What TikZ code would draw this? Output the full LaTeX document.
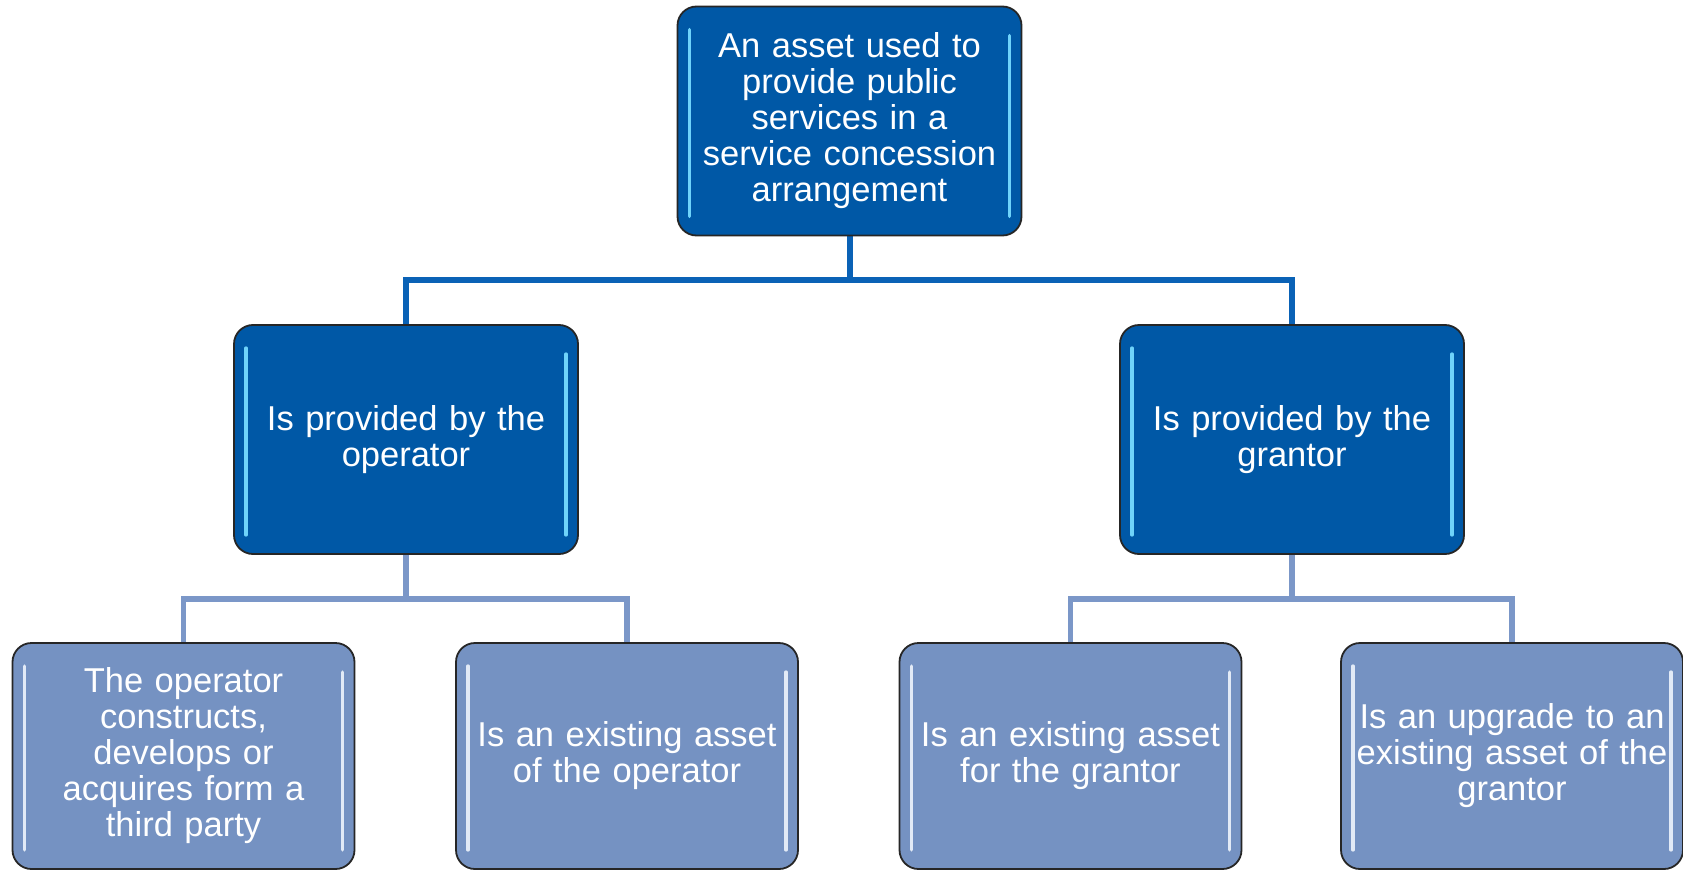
\documentclass[tikz,border=0pt]{standalone}
\usepackage{fontspec}
\setmainfont{Liberation Sans}
\usetikzlibrary{backgrounds}
\definecolor{darkfill}{HTML}{0058A6}
\definecolor{lightfill}{HTML}{7592C2}
\definecolor{darkline}{HTML}{0A62B6}
\definecolor{lightline}{HTML}{7B97C8}
\definecolor{darkglow}{HTML}{6FD3FA}
\definecolor{lightglow}{HTML}{E2EAF6}
\begin{document}
\begin{tikzpicture}[x=1pt,y=-1pt,
  box/.style={draw=black!85,line width=1.8pt,rounded corners=19pt,align=center,
    text=white,font=\fontsize{34.5}{36}\selectfont,inner sep=0pt},
  darkbox/.style={box,fill=darkfill,minimum width=344pt,minimum height=229pt,text width=300pt},
  lightbox/.style={box,fill=lightfill,minimum width=342pt,minimum height=226pt,text width=318pt},
  darkconn/.style={draw=darkline,line width=6pt},
  lightconn/.style={draw=lightline,line width=5.5pt},
  glow/.style={line width=3.5pt,line cap=round}
]
\useasboundingbox (0,0) rectangle (1683,872);

\node[darkbox] (top) at (849.5,121) {An asset used to\\provide public\\services in a\\service concession\\arrangement};
\node[darkbox] (ml) at (406,439.5) {Is provided by the\\operator};
\node[darkbox] (mr) at (1292,439.5) {Is provided by the\\grantor};
\node[lightbox] (b1) at (183.5,756) {The operator\\constructs,\\develops or\\acquires form a\\third party};
\node[lightbox] (b2) at (627,756) {Is an existing asset\\of the operator};
\node[lightbox] (b3) at (1070.5,756) {Is an existing asset\\for the grantor};
\node[lightbox] (b4) at (1512,756) {Is an upgrade to an\\existing asset of the\\grantor};

% glossy highlights
\foreach \n in {top,ml,mr}{
  \draw[glow,darkglow] ([shift={(13,24)}]\n.north west) -- ([shift={(13,-20)}]\n.south west);
  \draw[glow,darkglow] ([shift={(-13,30)}]\n.north east) -- ([shift={(-13,-20)}]\n.south east);
}
\foreach \n in {b1,b2,b3,b4}{
  \draw[glow,lightglow] ([shift={(13,24)}]\n.north west) -- ([shift={(13,-20)}]\n.south west);
  \draw[glow,lightglow] ([shift={(-13,30)}]\n.north east) -- ([shift={(-13,-20)}]\n.south east);
}

\coordinate (j1) at (849.5,280);
\coordinate (j2) at (406,599);
\coordinate (j3) at (1292,599);

\begin{scope}[on background layer]
\draw[darkconn] (top.south) -- (j1);
\draw[darkconn] (j1) -| (ml.north);
\draw[darkconn] (j1) -| (mr.north);

\draw[lightconn] (ml.south) -- (j2);
\draw[lightconn] (j2) -| (b1.north);
\draw[lightconn] (j2) -| (b2.north);

\draw[lightconn] (mr.south) -- (j3);
\draw[lightconn] (j3) -| (b3.north);
\draw[lightconn] (j3) -| (b4.north);
\end{scope}
\end{tikzpicture}
\end{document}
